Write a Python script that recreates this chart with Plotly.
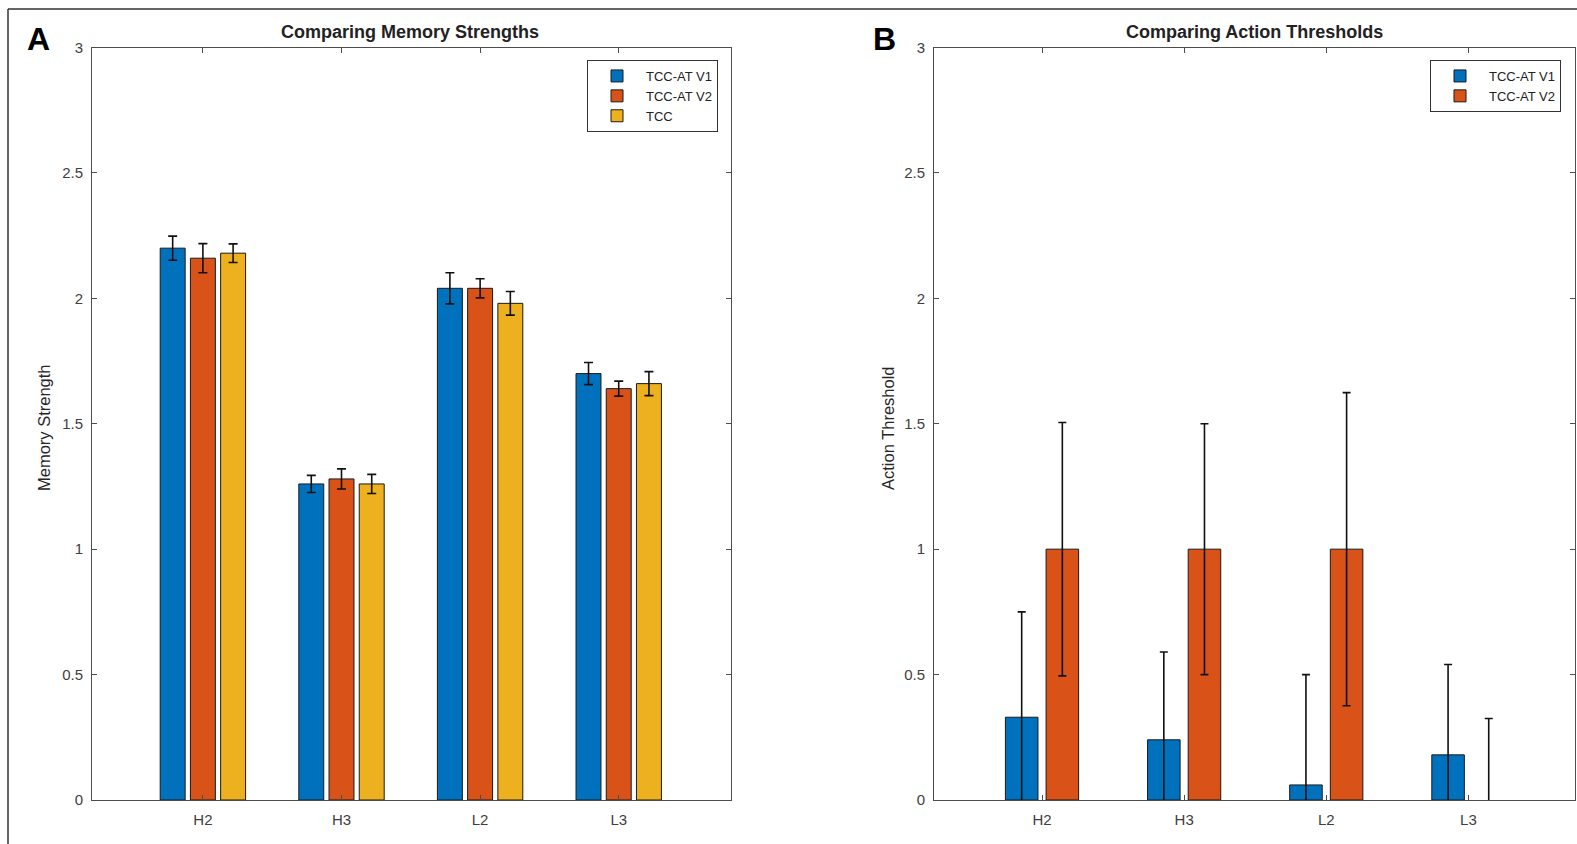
import plotly.graph_objects as go

W, H = 1577, 844

categories = ["H2", "H3", "L2", "L3"]

# Panel A: memory strengths
ms_v1 = [2.20, 1.26, 2.04, 1.70]
ms_v1_err = [0.048, 0.034, 0.062, 0.044]
ms_v2 = [2.16, 1.28, 2.04, 1.64]
ms_v2_err = [0.058, 0.040, 0.038, 0.030]
ms_tcc = [2.18, 1.26, 1.98, 1.66]
ms_tcc_err = [0.037, 0.038, 0.047, 0.048]

# Panel B: action thresholds
at_v1 = [0.33, 0.24, 0.06, 0.18]
at_v1_err = [0.42, 0.35, 0.44, 0.36]
at_v2 = [1.0, 1.0, 1.0, 0.0]
at_v2_err = [0.505, 0.50, 0.624, 0.325]

series_names = ["TCC-AT V1", "TCC-AT V2", "TCC"]
colors = ["#0072BD", "#D95319", "#EDB120"]
yticks = [0, 0.5, 1, 1.5, 2, 2.5, 3]
ytick_text = ["0", "0.5", "1", "1.5", "2", "2.5", "3"]

FONT = "Liberation Sans, Arial, sans-serif"

def px_x(x):
    return x / W

def px_y(y):
    return 1 - y / H

fig = go.Figure()

# Panel A bars
wA = 0.18
offA = [-0.308, -0.09, 0.128]
for i, (vals, errs) in enumerate([(ms_v1, ms_v1_err), (ms_v2, ms_v2_err), (ms_tcc, ms_tcc_err)]):
    fig.add_trace(go.Bar(
        x=categories, y=vals, name=series_names[i],
        width=wA, offset=offA[i],
        marker=dict(color=colors[i], line=dict(color="#1a1a1a", width=1)),
        error_y=dict(type="data", array=errs, visible=True, color="#111111", thickness=1.6, width=4.5),
        xaxis="x", yaxis="y", legend="legend",
    ))

# Panel B bars
wB = 0.229
offB = [-0.2575, 0.0285]
for i, (vals, errs) in enumerate([(at_v1, at_v1_err), (at_v2, at_v2_err)]):
    fig.add_trace(go.Bar(
        x=categories, y=vals, name=series_names[i],
        width=wB, offset=offB[i],
        marker=dict(color=colors[i],
                    line=dict(color="#1a1a1a", width=[1 if v > 0 else 0 for v in vals])),
        error_y=dict(type="data", array=errs, visible=True, color="#111111", thickness=1.6, width=4),
        xaxis="x2", yaxis="y2", legend="legend2",
    ))

axis_common = dict(
    showline=True, linecolor="#4d4d4d", linewidth=1, mirror="allticks",
    ticks="inside", ticklen=5, tickcolor="#4d4d4d", tickwidth=1,
    showgrid=False, zeroline=False, automargin=False,
    tickfont=dict(family=FONT, size=15, color="#404040"),
)

legend_common = dict(
    xanchor="right", yanchor="top",
    bordercolor="#333333", borderwidth=1, bgcolor="white",
    font=dict(family=FONT, size=13, color="#222"),
    tracegroupgap=0, itemwidth=48,
)

fig.update_layout(
    width=W, height=H, autosize=False,
    margin=dict(l=0, r=0, t=0, b=0, pad=0, autoexpand=False),
    paper_bgcolor="white", plot_bgcolor="white",
    barmode="overlay",
    xaxis=dict(axis_common, domain=[px_x(92), px_x(731)], type="category",
               categoryorder="array", categoryarray=categories,
               range=[-0.8, 3.81], anchor="y", ticklabelstandoff=6),
    yaxis=dict(axis_common, domain=[px_y(800), px_y(47.5)], range=[0, 3],
               tickvals=yticks, ticktext=ytick_text, anchor="x", ticklabelstandoff=5),
    xaxis2=dict(axis_common, domain=[px_x(934), px_x(1575)], type="category",
                categoryorder="array", categoryarray=categories,
                range=[-0.76, 3.75], anchor="y2", ticklabelstandoff=6),
    yaxis2=dict(axis_common, domain=[px_y(800), px_y(47.5)], range=[0, 3],
                tickvals=yticks, ticktext=ytick_text, anchor="x2", ticklabelstandoff=5),
    legend=dict(legend_common, x=px_x(718), y=px_y(60)),
    legend2=dict(legend_common, x=px_x(1561), y=px_y(60)),
    showlegend=True,
)

title_font = dict(family=FONT, size=18, color="#222")
label_font = dict(family=FONT, size=16.5, color="#262626")
letter_font = dict(family=FONT, size=32, color="black")

annos = [
    dict(text="<b>Comparing Memory Strengths</b>", x=px_x(410), y=px_y(32), font=title_font),
    dict(text="<b>Comparing Action Thresholds</b>", x=px_x(1254.5), y=px_y(32), font=title_font),
    dict(text="Memory Strength", x=px_x(44), y=px_y(428), textangle=-90, font=label_font),
    dict(text="Action Threshold", x=px_x(888), y=px_y(428), textangle=-90, font=label_font),
    dict(text="<b>A</b>", x=px_x(38.5), y=px_y(39), font=letter_font),
    dict(text="<b>B</b>", x=px_x(884), y=px_y(39), font=letter_font),
]
for a in annos:
    fig.add_annotation(xref="paper", yref="paper", showarrow=False,
                       xanchor="center", yanchor="middle", **a)

# figure frame (top and left edges visible in the picture)
fig.add_shape(type="line", xref="paper", yref="paper",
              x0=px_x(8), y0=px_y(9), x1=1.0, y1=px_y(9),
              line=dict(color="#333333", width=1.5))
fig.add_shape(type="line", xref="paper", yref="paper",
              x0=px_x(8), y0=px_y(9), x1=px_x(8), y1=0.0,
              line=dict(color="#333333", width=1.5))

fig.write_html("out.html")
